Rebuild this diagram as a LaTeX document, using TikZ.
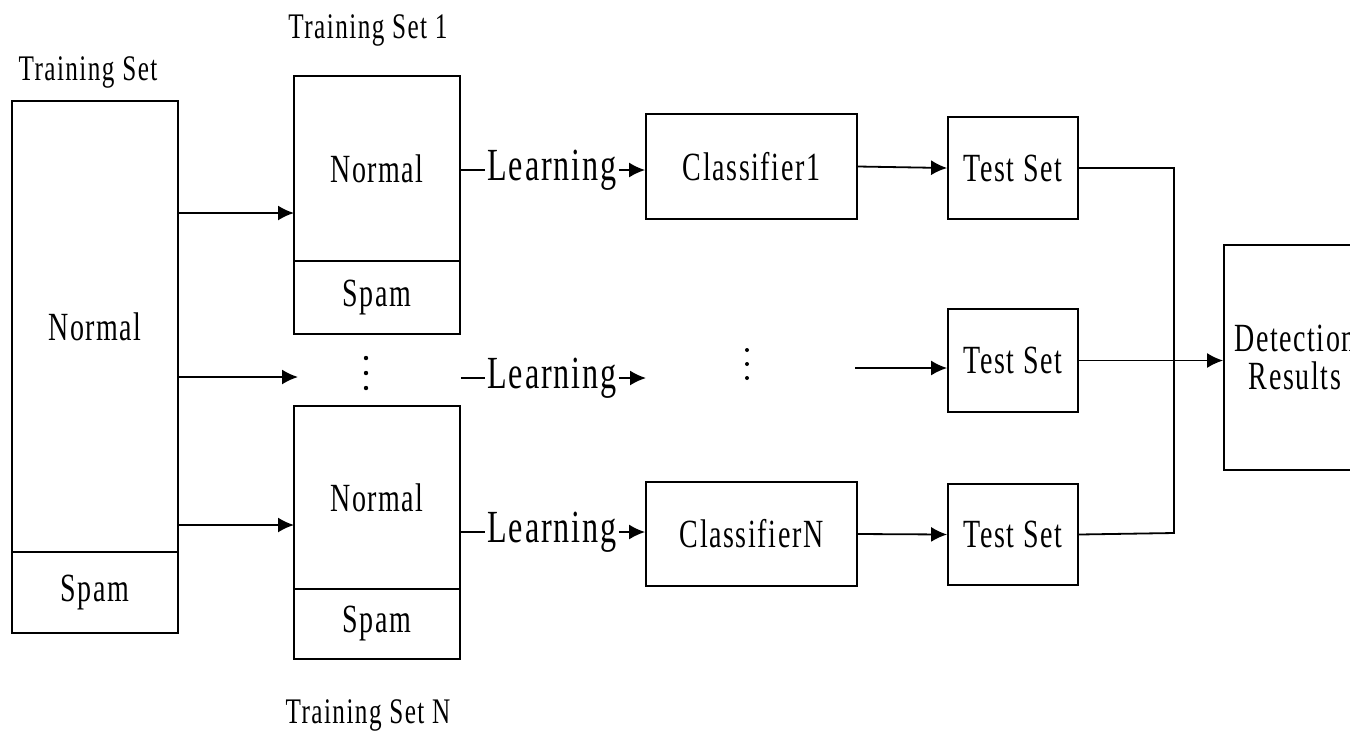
\documentclass[tikz,border=0pt]{standalone}
\usepackage{fontspec}
\setmainfont{Liberation Serif}[FakeStretch=0.7,LetterSpace=4]
\usetikzlibrary{arrows.meta}
\begin{document}
\begin{tikzpicture}[x=0.5pt,y=-0.5pt,line cap=butt,>={Latex[length=8pt,width=7.5pt]},
    box/.style={draw,line width=0.9pt,inner sep=0pt,font=\fontsize{20}{22}\selectfont},
    lbl/.style={font=\fontsize{18}{20}\selectfont},
    learn/.style={inner sep=1pt,font=\fontsize{23}{25}\selectfont},
    conn/.style={line width=0.9pt}]
		% Limites du dessin
		\clip (0,0) rectangle (1350,730);

		% Ensemble d'apprentissage
		\node[box,minimum width=83pt,minimum height=225.5pt] (ts-normal) at (95,326.5) {Normal};
		\node[box,minimum width=83pt,minimum height=40.5pt] (ts-spam) at (95,592.5) {Spam};
		\node[lbl] (ts-lbl) at (88,72) {Training Set};

		% Sous-ensembles
		\node[box,minimum width=83pt,minimum height=92.5pt] (ts1-normal) at (377,168.5) {Normal};
		\node[box,minimum width=83pt,minimum height=36.5pt] (ts1-spam) at (377,297.5) {Spam};
		\node[lbl] (ts1-lbl) at (368,30) {Training Set 1};
		\node[box,minimum width=83pt,minimum height=91.5pt] (tsN-normal) at (377,497.5) {Normal};
		\node[box,minimum width=83pt,minimum height=35pt] (tsN-spam) at (377,624) {Spam};
		\node[lbl] (tsN-lbl) at (368,715) {Training Set N};

		% Points de suspension
		\foreach \y in {358,373,388} \fill (366,\y) circle (2.2);
		\foreach \y in {350,364,378} \fill (747,\y) circle (2);

		% Apprentissage
		\node[learn] (learn1) at (552,170) {Learning};
		\node[learn] (learn2) at (552,378) {Learning};
		\node[learn] (learnN) at (552,532) {Learning};

		% Classifieurs
		\node[box,minimum width=105.5pt,minimum height=52.5pt] (cls1) at (751.5,166.5) {Classifier1};
		\node[box,minimum width=105.5pt,minimum height=52pt] (clsN) at (751.5,534) {ClassifierN};

		% Ensembles de test
		\node[box,minimum width=65pt,minimum height=51pt] (test1) at (1013,168) {Test Set};
		\node[box,minimum width=65pt,minimum height=51.5pt] (test2) at (1013,360.5) {Test Set};
		\node[box,minimum width=65pt,minimum height=50.5pt] (test3) at (1013,534.5) {Test Set};

		% Resultats
		\node[box,minimum width=71pt,minimum height=112.5pt,align=center] (det) at (1295,357.5) {Detection\\[-3pt]Results};

		% Points d'arrivee
		\coordinate (a1) at (294,213);
		\coordinate (a2) at (298,377);
		\coordinate (a3) at (294,525);
		\coordinate (b2) at (646,378);
		\coordinate (c2) at (855,368);
		\coordinate (j1) at (1174,168);
		\coordinate (j3) at (1174,533);

		% Fleches
		\draw[conn,->] (ts-normal.east |- a1) -- (a1);
		\draw[conn,->] (ts-normal.east |- a2) -- (a2);
		\draw[conn,->] (ts-normal.east |- a3) -- (a3);
		\draw[conn] (ts1-normal.east |- learn1) -- (learn1.west);
		\draw[conn,->] (learn1.east) -- (cls1.west |- learn1);
		\draw[conn] (ts1-normal.east |- learn2) -- (learn2.west);
		\draw[conn,->] (learn2.east) -- (b2);
		\draw[conn] (tsN-normal.east |- learnN) -- (learnN.west);
		\draw[conn,->] (learnN.east) -- (clsN.west |- learnN);
		\draw[conn,->] (cls1.east) -- (test1.west);
		\draw[conn,->] (c2) -- (test2.west |- c2);
		\draw[conn,->] (clsN.east) -- (test3.west);
		\draw[conn] (test1.east) -- (j1) -- (j3) -- (test3.east);
		\draw[conn,->] (test2.east) -- (det.west |- test2);
\end{tikzpicture}
\end{document}
